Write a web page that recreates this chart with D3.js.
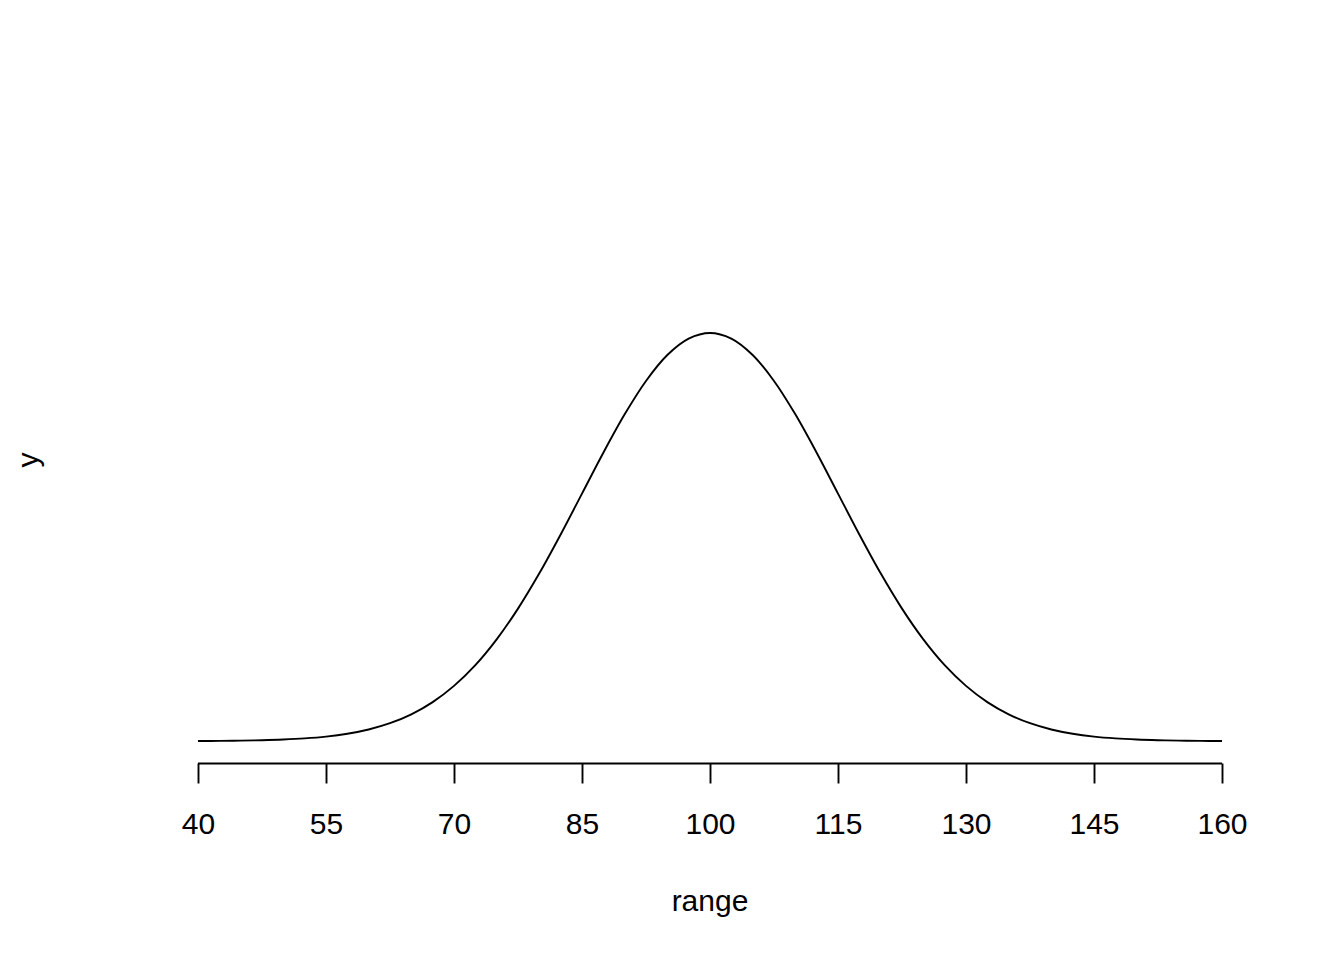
<!DOCTYPE html>
<html>
<head>
<meta charset="utf-8">
<script src="https://cdn.jsdelivr.net/npm/d3@7"></script>
<style>
  body { margin: 0; background: #fff; }
  svg text { font-family: "Liberation Sans", Arial, sans-serif; fill: #000; }
</style>
</head>
<body>
<div id="chart"></div>
<script>
// values, every 2.5 units of range
let rangeVals = [40, 42.5, 45, 47.5, 50, 52.5, 55, 57.5, 60, 62.5, 65, 67.5, 70, 72.5, 75, 77.5,
    80, 82.5, 85, 87.5, 90, 92.5, 95, 97.5, 100, 102.5, 105, 107.5, 110, 112.5, 115, 117.5,
    120, 122.5, 125, 127.5, 130, 132.5, 135, 137.5, 140, 142.5, 145, 147.5, 150, 152.5, 155, 157.5, 160];
let yVals = [0.000009, 0.000017, 0.000032, 0.000058, 0.000103, 0.000177, 0.000295, 0.000481,
    0.00076, 0.001169, 0.001748, 0.002544, 0.0036, 0.004952, 0.006633, 0.008636,
    0.010934, 0.013466, 0.01613, 0.018793, 0.021296, 0.023471, 0.02516, 0.02623, 0.026596,
    0.02623, 0.02516, 0.023471, 0.021296, 0.018793, 0.01613, 0.013466, 0.010934,
    0.008636, 0.006633, 0.004952, 0.0036, 0.002544, 0.001748, 0.001169, 0.00076,
    0.000481, 0.000295, 0.000177, 0.000103, 0.000058, 0.000032, 0.000017, 0.000009];
let xTicks = [40, 55, 70, 85, 100, 115, 130, 145, 160];

let data = rangeVals.map(function(r, i) { return {x: r, y: yVals[i]}; });

let width = 1344, height = 960;

let svg = d3.select("#chart")
    .append("svg")
    .attr("width", width)
    .attr("height", height);

// scales
let x = d3.scaleLinear()
    .domain([40, 160])
    .range([198, 1222]);

let y = d3.scaleLinear()
    .domain([d3.min(yVals), d3.max(yVals)])
    .range([741, 333]);

// the curve
svg.append("path")
    .datum(data)
    .attr("fill", "none")
    .attr("stroke", "#000")
    .attr("stroke-width", 1.9)
    .attr("d", d3.line()
        .x(function(d) { return x(d.x); })
        .y(function(d) { return y(d.y); })
        .curve(d3.curveCatmullRom.alpha(0.5))
    );

// X axis, R style
let xAxis = svg.append("g")
    .attr("transform", "translate(0,763.5)")
    .call(d3.axisBottom(x).tickValues(xTicks).tickSize(20).tickPadding(29).tickFormat(d3.format("d")));
xAxis.select(".domain")
    .attr("stroke", "#000")
    .attr("stroke-width", 1.9)
    .attr("d", "M" + x(40) + ",0H" + x(160));
xAxis.selectAll(".tick line")
    .attr("stroke", "#000")
    .attr("stroke-width", 1.9);
xAxis.selectAll(".tick text")
    .style("font-size", "30px")
    .style("font-family", "Liberation Sans, Arial, sans-serif")
    .attr("fill", "#000");

// axis labels
svg.append("text")
    .attr("x", x(100))
    .attr("y", 911)
    .attr("text-anchor", "middle")
    .style("font-size", "30px")
    .text("range");

svg.append("text")
    .attr("transform", "translate(38," + 460 + ") rotate(-90)")
    .attr("text-anchor", "middle")
    .style("font-size", "30px")
    .text("y");
</script>
</body>
</html>
